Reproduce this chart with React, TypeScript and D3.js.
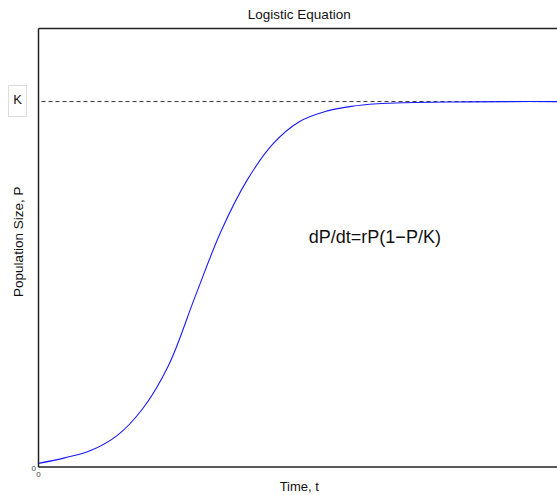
import React from "react";
import * as d3 from "d3";

const timeValues = [0, 5, 10, 15, 20, 25, 30, 35, 40, 45, 50, 55, 60, 65, 70, 80, 90, 100];
const popValues = [0.01, 0.025, 0.045, 0.085, 0.16, 0.28, 0.465, 0.645, 0.785, 0.885, 0.945, 0.973, 0.987, 0.994, 0.997, 0.999, 1.0, 1.0];
const carryingCapacity = 1;
const xDomain = [0, 100];
const yDomain = [0, 1.2];
const titleText = "Logistic Equation";
const xLabel = "Time, t";
const yLabel = "Population Size, P";
const equationText = "dP/dt=rP(1\u2212P/K)";

export default function App() {
  const W = 557, H = 495;
  const left = 38.5, right = 560, top = 28.5, bottom = 467;
  const x = d3.scaleLinear().domain(xDomain).range([left, right]);
  const y = d3.scaleLinear().domain(yDomain).range([bottom, top]);
  const pts = timeValues.map((t, i) => [t, popValues[i]] as [number, number]);
  const line = d3.line<[number, number]>().x(d => x(d[0])).y(d => y(d[1])).curve(d3.curveCatmullRom.alpha(0.5));
  const font = "'Liberation Sans', Arial, Helvetica, sans-serif";
  return (
    <svg width={W} height={H} style={{ position: "absolute", left: 0, top: 0 }} fontFamily={font}>
      <rect x={0} y={0} width={W} height={H} fill="#fff" />
      <text x={(left + right) / 2} y={19} textAnchor="middle" fontSize={13.5} fill="#111">{titleText}</text>
      <line x1={left + 3} x2={right} y1={y(carryingCapacity)} y2={y(carryingCapacity)} stroke="#333" strokeWidth={1} strokeDasharray="4,3" />
      <path d={line(pts) || ""} fill="none" stroke="#1a1aff" strokeWidth={1.1} />
      <line x1={left} x2={right} y1={top} y2={top} stroke="#222" strokeWidth={1.5} />
      <line x1={left} x2={right} y1={bottom} y2={bottom} stroke="#222" strokeWidth={1.5} />
      <line x1={left} x2={left} y1={top} y2={bottom} stroke="#222" strokeWidth={1.5} />
      <rect x={8.5} y={85.5} width={18} height={31} fill="#fff" stroke="#ddd" strokeWidth={1} />
      <text x={17.5} y={104} textAnchor="middle" fontSize={13} fill="#111">K</text>
      <text x={x(64.5)} y={y(0.613)} textAnchor="middle" fontSize={18} fill="#111">{equationText}</text>
      <text x={36} y={471} textAnchor="end" fontSize={8} fill="#444">0</text>
      <text x={x(0)} y={477} textAnchor="middle" fontSize={8} fill="#444">0</text>
      <text x={(left + right) / 2} y={491} textAnchor="middle" fontSize={13} fill="#111">{xLabel}</text>
      <text transform={`translate(23,${(top + bottom) / 2 - 6}) rotate(-90)`} textAnchor="middle" fontSize={13.5} fill="#111">{yLabel}</text>
    </svg>
  );
}
